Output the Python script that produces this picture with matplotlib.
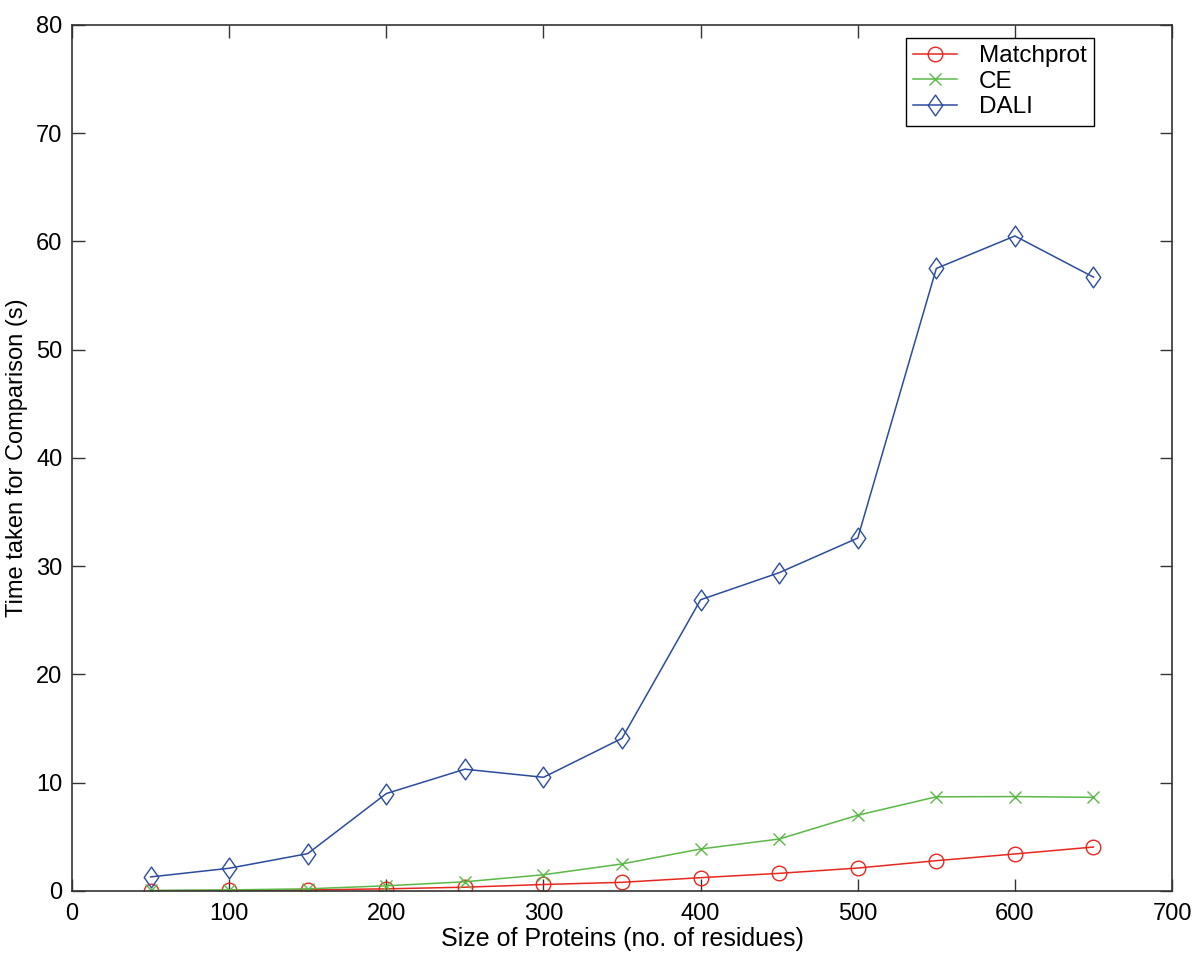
import matplotlib
matplotlib.use("Agg")
import matplotlib.pyplot as plt
from matplotlib.path import Path

sizes = [50, 100, 150, 200, 250, 300, 350, 400, 450, 500, 550, 600, 650]
matchprot = [0.02, 0.05, 0.1, 0.2, 0.35, 0.6, 0.8, 1.23, 1.63, 2.12, 2.8, 3.42, 4.06]
ce = [0.05, 0.1, 0.2, 0.48, 0.85, 1.5, 2.5, 3.88, 4.8, 7.0, 8.7, 8.72, 8.65]
dali = [1.3, 2.1, 3.45, 9.0, 11.25, 10.5, 14.1, 26.9, 29.4, 32.6, 57.5, 60.5, 56.7]

plt.rcParams['font.family'] = ['Liberation Sans', 'DejaVu Sans']

# MATLAB-style diamond (a bit narrower than tall)
diamond = Path([(0, 1), (0.7, 0), (0, -1), (-0.7, 0), (0, 1)],
               [Path.MOVETO, Path.LINETO, Path.LINETO, Path.LINETO, Path.CLOSEPOLY])

fig = plt.figure(figsize=(12, 9.56), dpi=100)
ax = fig.add_axes([0.06, 0.068, 0.9167, 0.906])

ax.plot(sizes, matchprot, color='#e8271f', marker='o', markersize=10.5,
        markerfacecolor='none', linewidth=1.1, label='Matchprot')
ax.plot(sizes, ce, color='#5ab946', marker='x', markersize=8,
        linewidth=1.1, label='CE')
ax.plot(sizes, dali, color='#2b4c9e', marker=diamond, markersize=15,
        markerfacecolor='none', linewidth=1.1, label='DALI')

ax.set_xlim(0, 700)
ax.set_ylim(0, 80)
ax.set_xticks(range(0, 701, 100))
ax.set_yticks(range(0, 81, 10))
ax.tick_params(direction='in', top=True, right=True, length=9, width=1,
               labelsize=17, colors='#333333', labelcolor='black')
ax.tick_params(axis='x', pad=9)
ax.tick_params(axis='y', pad=7)
for s in ax.spines.values():
    s.set_linewidth(1.2)
    s.set_color('#333333')

ax.set_xlabel('Size of Proteins (no. of residues)', fontsize=18, labelpad=1)
ax.set_ylabel('Time taken for Comparison (s)', fontsize=17)
ax.yaxis.set_label_coords(-0.04, 0.5)

leg = ax.legend(loc='upper right', bbox_to_anchor=(0.929, 0.985), fontsize=17.5,
                fancybox=False, edgecolor='black', framealpha=1,
                handlelength=1.8, handletextpad=0.9, borderpad=0.3,
                labelspacing=0.15, borderaxespad=0)
leg.get_frame().set_linewidth(1)

fig.savefig('out.png', dpi=100)
